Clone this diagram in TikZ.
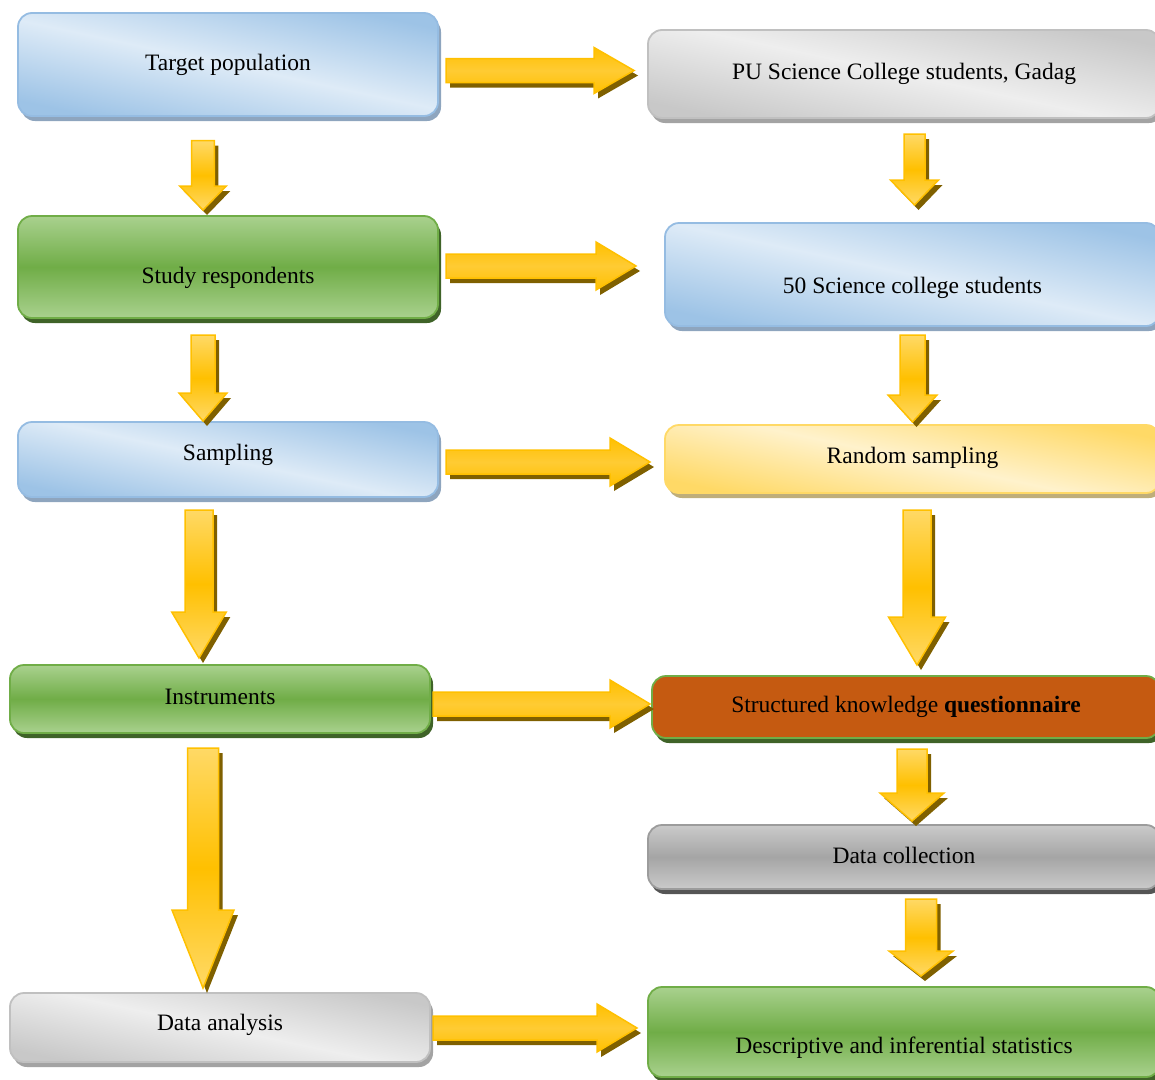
\documentclass[tikz,border=0pt]{standalone}
\usepackage{fontspec}
\setmainfont{Liberation Serif}
\usetikzlibrary{calc, shadows}
\definecolor{cbluedk}{HTML}{9DC3E6}
\definecolor{cbluelt}{HTML}{DEEBF7}
\definecolor{cblueedge}{HTML}{95BCE2}
\definecolor{cblueshd}{HTML}{8EA5BE}
\definecolor{cgreylt}{HTML}{EEEEEE}
\definecolor{cgreydk}{HTML}{C8C8C8}
\definecolor{cgreyedge}{HTML}{C0C0C0}
\definecolor{cgreyshd}{HTML}{A3A3A3}
\definecolor{cslate}{HTML}{A5A5A5}
\definecolor{cslatelt}{HTML}{CACACA}
\definecolor{cslateedge}{HTML}{9C9C9C}
\definecolor{cslateshd}{HTML}{555555}
\definecolor{cgreen}{HTML}{70AD47}
\definecolor{cgreenlt}{HTML}{A9D18E}
\definecolor{cgreenshd}{HTML}{3F6328}
\definecolor{cyellow}{HTML}{FFD966}
\definecolor{cyellowlt}{HTML}{FFF2CC}
\definecolor{cyellowshd}{HTML}{BFAE7A}
\definecolor{crust}{HTML}{C55A11}
\definecolor{cgold}{HTML}{FFC000}
\definecolor{cgoldlt}{HTML}{FFD966}
\definecolor{cgoldmid}{HTML}{FFCB33}
\definecolor{cgoldshd}{HTML}{7F6000}
\tikzset{
  every picture/.style={font=\fontsize{23.5}{28}\selectfont},
  box/.style={rounded corners=14pt, line width=1.8pt, inner sep=0pt, outer sep=0pt, text height=16pt, text depth=5pt, align=center},
  boxshadow/.style={drop shadow={shadow xshift=3pt, shadow yshift=-5pt, fill=#1, opacity=1}},
  bluebox/.style={box, draw=cblueedge, top color=cbluedk, bottom color=cbluedk, middle color=cbluelt, shading angle=-12, boxshadow=cblueshd},
  greybox/.style={box, draw=cgreyedge, top color=cgreydk, bottom color=cgreydk, middle color=cgreylt, shading angle=-12, boxshadow=cgreyshd},
  yellowbox/.style={box, draw=cyellow, top color=cyellow, bottom color=cyellow, middle color=cyellowlt, shading angle=-12, boxshadow=cyellowshd},
  greenbox/.style={box, draw=cgreen, top color=cgreenlt, bottom color=cgreenlt, middle color=cgreen, boxshadow=cgreenshd},
  slatebox/.style={box, draw=cslateedge, top color=cslatelt, bottom color=cslatelt, middle color=cslate, boxshadow=cslateshd},
  rustbox/.style={box, draw=cgreen, fill=crust, boxshadow=cgreenshd},
  flowshd/.style={fill=cgoldshd},
  hbody/.style={draw=cgold, line width=1.5pt, top color=cgold, bottom color=cgold, middle color=cgoldmid},
  vbody/.style={draw=cgold, line width=1.5pt, top color=cgoldlt, bottom color=cgoldlt, middle color=cgold},
}
% block arrows: start, tip, shaft half width, head half width, head length
\newcommand{\hflow}[5]{%
  \fill[flowshd] let \p1=(#1), \p2=(#2) in
    (\x1+4pt,\y1+#3pt-5pt) -- (\x2-#5pt+4pt,\y1+#3pt-5pt) -- (\x2-#5pt+4pt,\y1+#4pt-5pt) -- (\x2+4pt,\y1-5pt)
    -- (\x2-#5pt+4pt,\y1-#4pt-5pt) -- (\x2-#5pt+4pt,\y1-#3pt-5pt) -- (\x1+4pt,\y1-#3pt-5pt) -- cycle;
  \path[hbody] let \p1=(#1), \p2=(#2) in
    (\x1,\y1+#3pt) -- (\x2-#5pt,\y1+#3pt) -- (\x2-#5pt,\y1+#4pt) -- (\x2,\y1)
    -- (\x2-#5pt,\y1-#4pt) -- (\x2-#5pt,\y1-#3pt) -- (\x1,\y1-#3pt) -- cycle;
}
\newcommand{\vflow}[5]{%
  \fill[flowshd] let \p1=(#1), \p2=(#2) in
    (\x1-#3pt+4pt,\y1-5pt) -- (\x1+#3pt+4pt,\y1-5pt) -- (\x1+#3pt+4pt,\y2+#5pt-5pt) -- (\x1+#4pt+4pt,\y2+#5pt-5pt)
    -- (\x1+4pt,\y2-5pt) -- (\x1-#4pt+4pt,\y2+#5pt-5pt) -- (\x1-#3pt+4pt,\y2+#5pt-5pt) -- cycle;
  \path[vbody] let \p1=(#1), \p2=(#2) in
    (\x1-#3pt,\y1) -- (\x1+#3pt,\y1) -- (\x1+#3pt,\y2+#5pt) -- (\x1+#4pt,\y2+#5pt)
    -- (\x1,\y2) -- (\x1-#4pt,\y2+#5pt) -- (\x1-#3pt,\y2+#5pt) -- cycle;
}

\begin{document}
\begin{tikzpicture}[x=1pt, y=-1pt]
  \useasboundingbox (0,0) rectangle (1155,1079);
  \clip (0,0) rectangle (1155,1079);
  % left column
  \node[bluebox, minimum width=420, minimum height=103, text height=17pt] (tp) at (228,64.5) {Target population};
  \node[greenbox, minimum width=420, minimum height=102, text height=37pt] (sr) at (228,267) {Study respondents};
  \node[bluebox, minimum width=420, minimum height=75, text height=7pt] (sp) at (228,459.5) {Sampling};
  \node[greenbox, minimum width=420, minimum height=68, text height=15pt] (ins) at (220,699) {Instruments};
  \node[greybox, minimum width=420, minimum height=69, text height=11pt] (da) at (220,1027.5) {Data analysis};
  % right column
  \node[greybox, minimum width=512, minimum height=88, text height=15pt] (pu) at (904,74) {PU Science College students, Gadag};
  \node[bluebox, minimum width=495, minimum height=103, text height=42pt] (fifty) at (912.5,274.5) {50 Science college students};
  \node[yellowbox, minimum width=495, minimum height=68, text height=14pt] (rs) at (912.5,459) {Random sampling};
  \node[rustbox, minimum width=508, minimum height=62, text height=16pt] (sq) at (906,707) {Structured knowledge \textbf{questionnaire}};
  \node[slatebox, minimum width=512, minimum height=64, text height=17pt] (dc) at (904,857) {Data collection};
  \node[greenbox, minimum width=512, minimum height=90, text height=48pt] (desc) at (904,1032) {Descriptive and inferential statistics};
  % across
  \hflow{[xshift=8pt,yshift=-6pt]tp.east}{[xshift=-14pt]pu.west}{12}{23}{40}
  \hflow{[xshift=8pt,yshift=1pt]sr.east}{[xshift=-29pt]fifty.west}{12}{24}{40}
  \hflow{[xshift=8pt,yshift=-2.5pt]sp.east}{[xshift=-15pt]rs.west}{12}{24}{40}
  \hflow{[xshift=3pt,yshift=-5pt]ins.east}{[xshift=-2pt]sq.west}{12}{24}{40}
  \hflow{[xshift=3pt,yshift=-0.5pt]da.east}{[xshift=-11pt]desc.west}{12}{24}{40}
  % down
  \vflow{[xshift=-25pt,yshift=-24.7pt]tp.south}{[yshift=6pt]sr.north}{11.3}{23.3}{24}
  \vflow{[xshift=-25pt,yshift=-17pt]sr.south}{[yshift=1pt]sp.north}{12}{24}{28}
  \vflow{[xshift=-29pt,yshift=-13pt]sp.south}{[yshift=7pt]ins.north}{14}{27.3}{46}
  \vflow{[xshift=-17pt,yshift=-15pt]ins.south}{[yshift=5pt]da.north}{15.5}{31}{78}
  \vflow{[xshift=10.5pt,yshift=-16pt]pu.south}{[yshift=18pt]fifty.north}{10.5}{24}{25}
  \vflow{[yshift=-9pt]fifty.south}{[yshift=3pt]rs.north}{12.5}{24.5}{27}
  \vflow{[xshift=4.5pt,yshift=-17pt]rs.south}{[yshift=11pt]sq.north}{14}{28.5}{48}
  \vflow{[xshift=6pt,yshift=-11pt]sq.south}{[yshift=4pt]dc.north}{15}{32}{28}
  \vflow{[xshift=17pt,yshift=-10pt]dc.south}{[yshift=11pt]desc.north}{15.5}{32}{25}
\end{tikzpicture}
\end{document}
